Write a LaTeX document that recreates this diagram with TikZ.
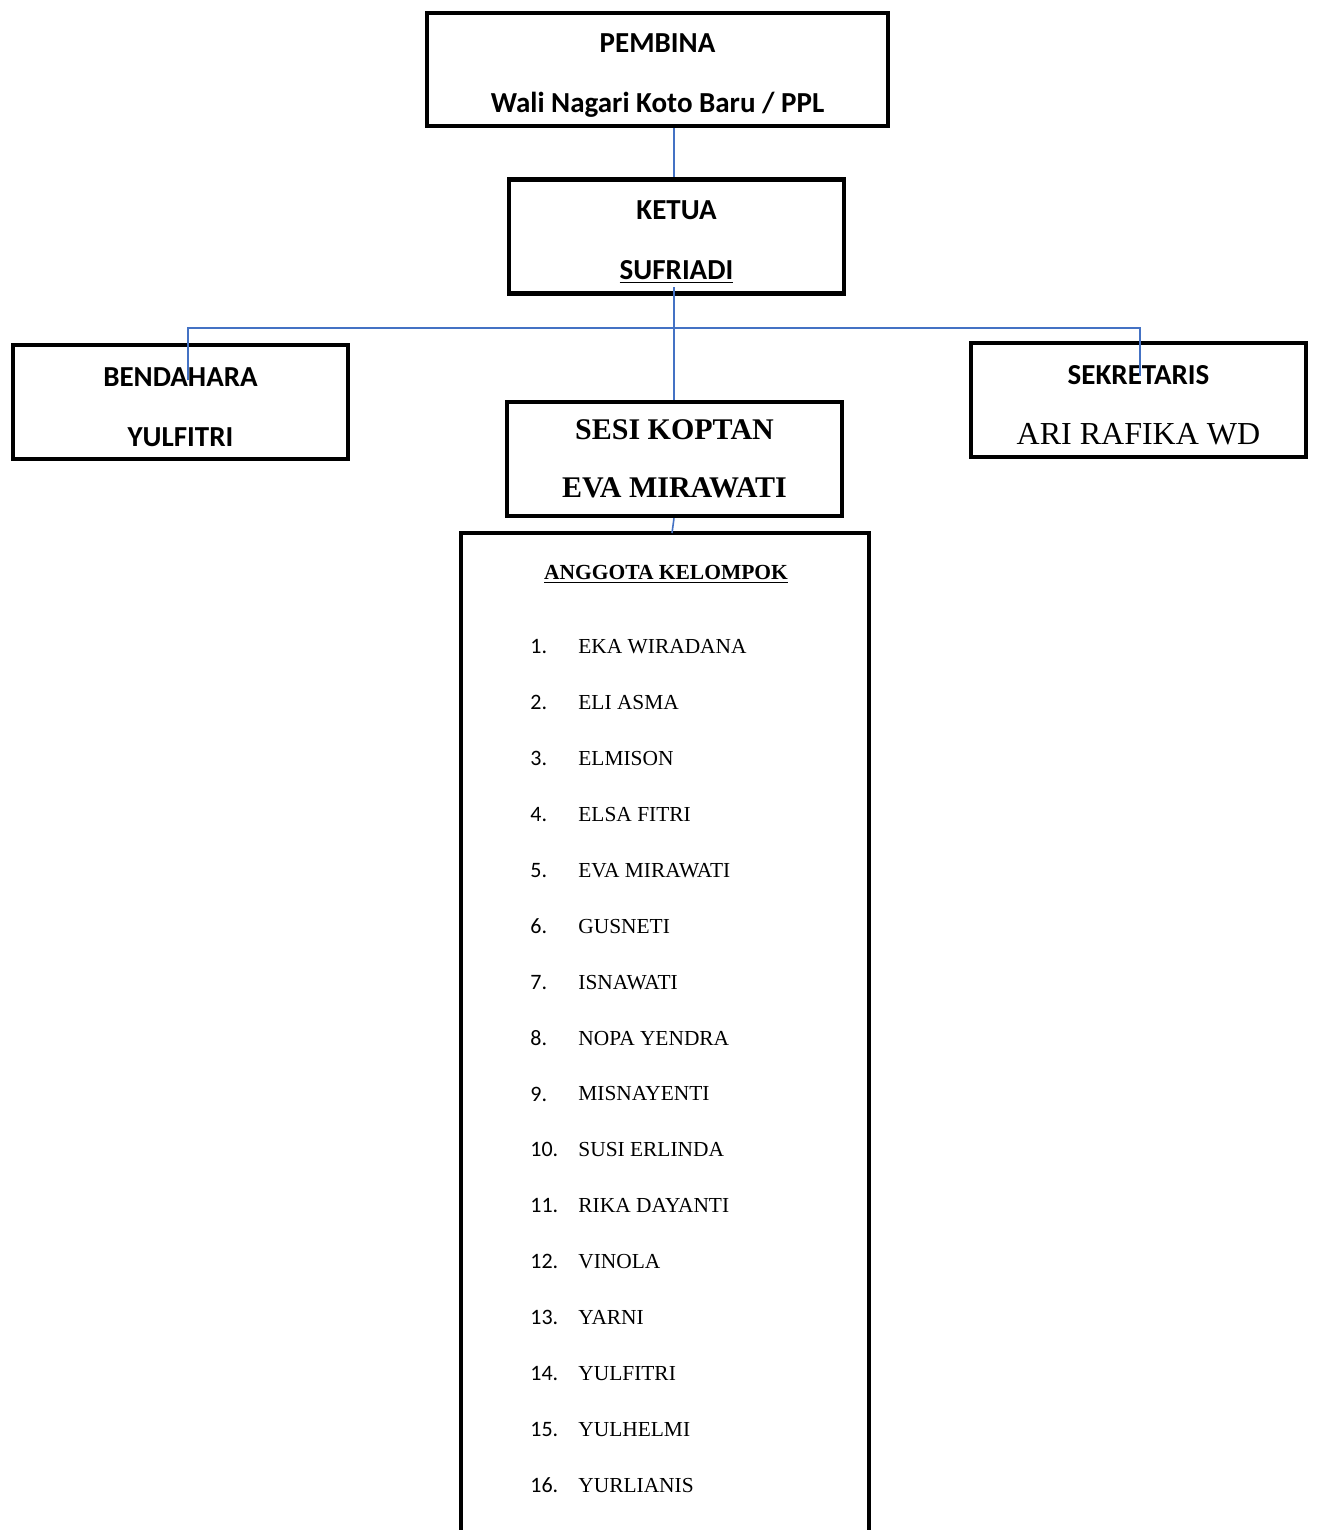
\documentclass[tikz,border=0pt]{standalone}
\usepackage{fontspec}
\setmainfont{Liberation Serif}
\newfontfamily\calfont{Carlito}
\definecolor{garisbiru}{RGB}{68,114,196}
\newcommand\ganjal{\rule{0pt}{15pt}}
\tikzset{
  kotak/.style={draw=black, line width=2.2pt, minimum width=167.5pt, minimum height=57pt, align=center, inner sep=0pt},
  judulkotak/.style={font=\calfont\bfseries\fontsize{14.5}{30}\selectfont},
  garis/.style={draw=garisbiru, line width=0.8pt},
}
\begin{document}
\begin{tikzpicture}[x=0.5pt, y=-0.5pt]
\useasboundingbox (0,0) rectangle (1317,1530);
\node[kotak, judulkotak, minimum width=230.5pt, minimum height=56.5pt] (pembina) at (657.5,69.5) {\ganjal PEMBINA\\Wali Nagari Koto Baru / PPL};
\node[kotak, judulkotak] (ketua) at (676.5,236.5) {\ganjal KETUA\\\underline{SUFRIADI}};
\node[kotak, judulkotak] (bendahara) at (180.5,402) {\ganjal BENDAHARA\\YULFITRI};
\node[kotak, font=\bfseries\fontsize{15}{29}\selectfont] (sesi) at (674.5,459) {SESI KOPTAN\\EVA MIRAWATI};
\node[kotak, judulkotak] (sekretaris) at (1138.5,400) {\ganjal SEKRETARIS\\{\rmfamily\mdseries\fontsize{16}{29}\selectfont ARI RAFIKA WD}};
\draw[line width=2.2pt] (461,1545) |- (869,533) -- (869,1545);
\node[font=\bfseries\fontsize{10.75}{13}\selectfont, anchor=base] (judul) at (666,579) {\underline{ANGGOTA KELOMPOK}};
\foreach \nama [count=\i] in {EKA WIRADANA, ELI ASMA, ELMISON, ELSA FITRI, EVA MIRAWATI, GUSNETI, ISNAWATI, NOPA YENDRA, MISNAYENTI, SUSI ERLINDA, RIKA DAYANTI, VINOLA, YARNI, YULFITRI, YULHELMI, YURLIANIS} {
  \node[anchor=west, inner sep=0pt, font=\calfont\fontsize{11}{13}\selectfont] (no\i) at (530,{647+55.87*(\i-1)}) {\i.};
  \node[anchor=west, inner sep=0pt, font=\fontsize{10.7}{13}\selectfont] (nama\i) at (578,{647+55.87*(\i-1)}) {\nama};
}
\coordinate (ketuabawah) at (674,287);
\coordinate (palangkiri) at (188,328);
\coordinate (palangkanan) at (1140,328);
\coordinate (turunkiri) at (188,380);
\coordinate (turunkanan) at (1140,376);
\coordinate (anggotaatas) at (672,533);
\draw[garis] (pembina.south -| ketuabawah) -- (ketua.north -| ketuabawah);
\draw[garis] (ketuabawah) -- (sesi.north -| ketuabawah);
\draw[garis] (turunkiri) -- (palangkiri) -- (palangkanan) -- (turunkanan);
\draw[garis] (sesi.south -| ketuabawah) -- (anggotaatas);
\end{tikzpicture}
\end{document}
